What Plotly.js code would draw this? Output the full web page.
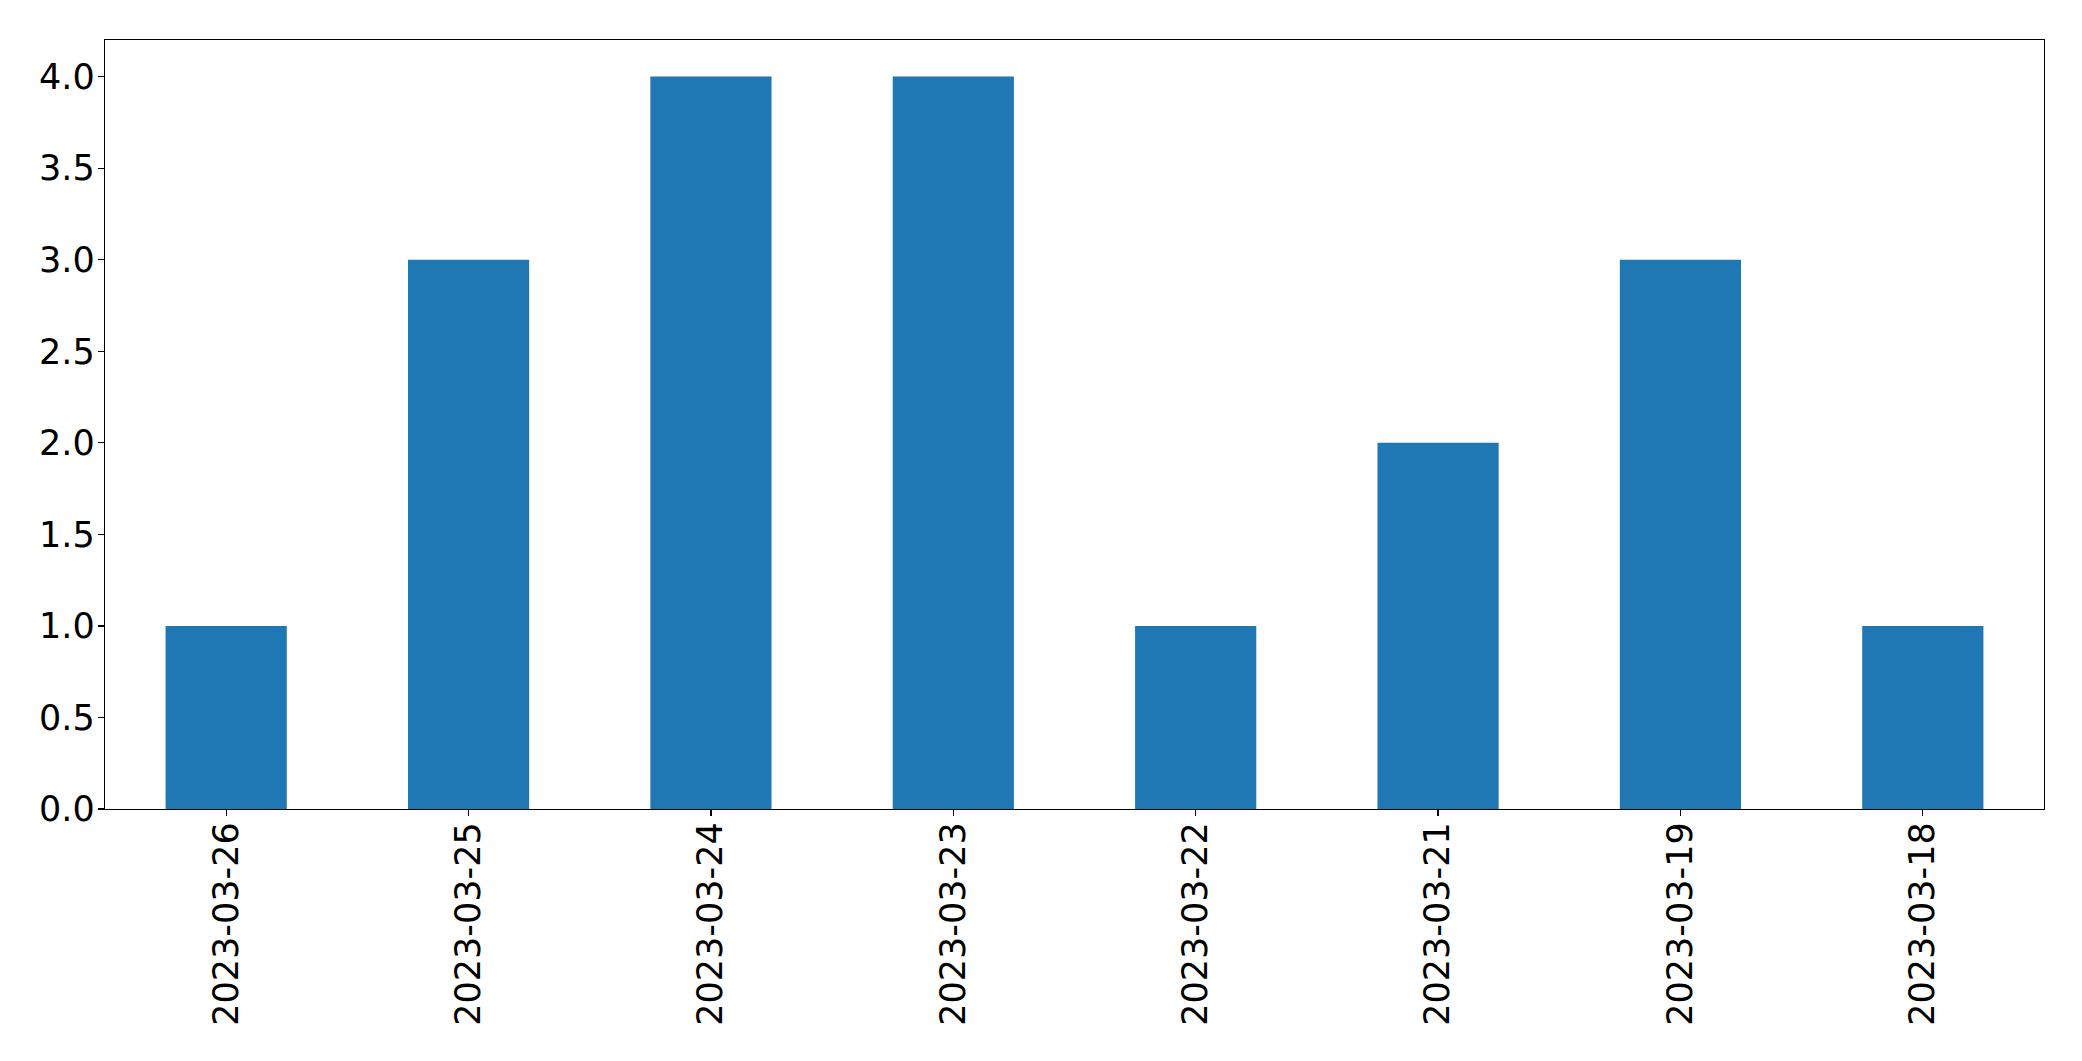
<!DOCTYPE html>
<html>
<head>
<meta charset="utf-8">
<script src="https://cdn.plot.ly/plotly-3.0.1.min.js"></script>
<style>html,body{margin:0;padding:0;background:#fff;}#chart{width:2082px;height:1061px;}</style>
</head>
<body>
<div id="chart"></div>
<script>
const categories = ["2023-03-26","2023-03-25","2023-03-24","2023-03-23","2023-03-22","2023-03-21","2023-03-19","2023-03-18"];
const values = [1, 3, 4, 4, 1, 2, 3, 1];
const yTickVals = [0, 0.5, 1, 1.5, 2, 2.5, 3, 3.5, 4];
const yTickText = ["0.0","0.5","1.0","1.5","2.0","2.5","3.0","3.5","4.0"];

const trace = {
  type: 'bar',
  x: categories,
  y: values,
  marker: {color: '#1f77b4', line: {width: 0}},
  width: 0.5,
  hoverinfo: 'x+y'
};

const font = {family: 'DejaVu Sans, sans-serif', size: 35, color: '#000'};
const layout = {
  width: 2082, height: 1061,
  margin: {l: 105, r: 38, t: 40, b: 252, pad: 0},
  paper_bgcolor: '#fff', plot_bgcolor: '#fff',
  showlegend: false,
  font: font,
  bargap: 0.5,
  xaxis: {
    type: 'category',
    range: [-0.5, 7.5],
    showline: true, mirror: true, linecolor: '#000', linewidth: 1.3,
    showgrid: false, zeroline: false,
    ticks: 'outside', ticklen: 6, tickwidth: 1.3, tickcolor: '#000',
    tickangle: -90,
    tickfont: font,
    ticklabelstandoff: -8
  },
  yaxis: {
    range: [0, 4.2],
    tickvals: yTickVals, ticktext: yTickText,
    showline: true, mirror: true, linecolor: '#000', linewidth: 1.3,
    showgrid: false, zeroline: false,
    ticks: 'outside', ticklen: 6, tickwidth: 1.3, tickcolor: '#000',
    tickfont: font,
    ticklabelstandoff: -4
  }
};
Plotly.newPlot('chart', [trace], layout, {displayModeBar: false, staticPlot: true});
</script>
</body>
</html>
